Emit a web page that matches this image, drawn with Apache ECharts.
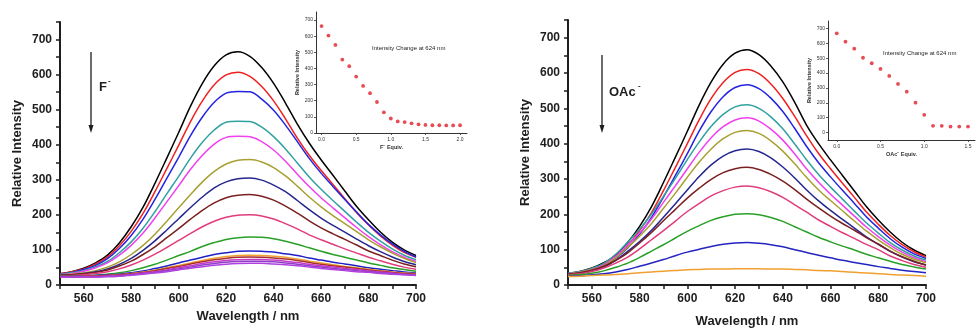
<!DOCTYPE html>
<html>
<head>
<meta charset="utf-8">
<script src="https://cdn.jsdelivr.net/npm/echarts@6/dist/echarts.min.js"></script>
<style>
  html, body { margin: 0; padding: 0; background: #fff; }
  #chart { width: 977px; height: 329px; }
</style>
</head>
<body>
<div id="chart"></div>
<script>
const wavelength = [550,555,560,565,570,575,580,585,590,595,600,605,610,615,620,625,630,635,640,645,650,655,660,665,670,675,680,685,690,695,700];

// left panel: F- titration spectra (top to bottom)
const fBlack    = [32,38,48,63,85,120,166,222,290,362,435,510,575,625,656,665,652,620,575,519,459,405,357,313,268,224,186,151,122,100,84];
const fRed      = [32,38,46,60,80,112,153,204,266,332,398,466,525,571,599,607,595,566,525,474,419,370,327,287,246,206,171,140,114,93,79];
const fBlue     = [31,36,44,56,75,104,141,188,244,304,364,426,479,521,547,552,551,530,498,456,409,361,319,281,244,208,173,143,117,96,80];
const fTeal     = [30,35,41,52,67,92,123,162,209,260,310,362,407,442,464,467,466,450,423,388,348,308,273,241,210,179,150,125,103,85,72];
const fMagenta  = [29,33,39,49,63,85,113,148,191,237,283,330,370,402,421,424,423,409,385,353,316,281,249,220,192,164,138,115,95,79,67];
const fOlive    = [29,31,35,41,51,66,87,113,145,182,220,258,294,324,345,356,358,351,335,311,282,251,223,198,175,152,129,109,91,76,64];
const fNavy     = [28,29,33,38,46,59,76,99,126,157,189,221,251,277,294,303,305,299,285,266,241,215,191,170,151,131,112,95,80,67,58];
const fBrown    = [27,29,32,36,43,54,68,87,109,135,161,188,213,234,249,256,258,253,242,225,205,183,163,146,130,114,97,84,71,60,52];
const fPink     = [26,27,29,33,38,46,57,71,88,107,127,147,166,182,193,199,200,197,188,175,160,143,129,116,103,91,79,69,59,51,45];
const fGreen    = [25,25,26,28,31,35,41,49,59,71,84,96,110,121,130,135,137,136,132,125,116,106,96,87,79,71,63,56,49,44,39];
const fBlue2    = [25,25,26,27,29,31,35,40,47,54,63,71,79,87,92,96,97,96,94,89,84,77,71,65,60,55,49,45,41,37,34];
const fOrange   = [24,24,25,26,27,29,33,37,42,49,56,63,70,76,81,84,85,84,82,79,74,68,63,58,53,49,45,41,37,34,32];
const fDarkRed  = [24,24,25,26,27,29,32,36,41,47,53,60,66,72,76,79,80,79,77,74,70,64,59,55,51,47,43,39,36,33,31];
const fMagenta2 = [23,23,24,24,26,27,30,34,38,43,49,55,61,66,70,72,73,73,71,68,64,59,55,51,47,44,40,37,34,31,29];
const fPurple   = [22,22,23,23,24,26,29,32,36,41,46,51,57,61,65,67,68,68,66,63,59,55,51,47,44,41,38,35,32,30,28];
const fViolet   = [22,22,23,23,24,25,28,31,34,38,43,48,52,56,59,61,62,62,60,58,55,51,47,44,41,38,36,33,31,29,27];

// right panel: OAc- titration spectra
const oBlack   = [32,38,48,63,85,120,166,222,290,362,435,510,575,625,656,666,652,620,575,517,452,400,354,310,266,222,184,150,121,99,83];
const oRed     = [32,38,46,60,80,112,154,205,267,333,400,468,528,573,602,610,598,569,528,477,422,372,329,288,248,207,172,140,114,94,79];
const oBlue    = [31,36,44,57,76,105,144,191,249,310,372,436,491,533,559,567,556,529,491,443,392,346,306,268,231,193,161,131,107,88,75];
const oTeal    = [33,38,47,61,87,121,158,201,251,302,355,405,449,483,504,510,500,476,442,399,354,313,277,243,209,176,147,120,99,82,70];
const oMagenta = [32,36,44,57,81,113,147,187,234,281,329,376,417,448,467,473,464,441,410,371,328,291,257,226,195,164,137,113,93,77,66];
const oOlive   = [31,36,43,55,77,106,138,174,217,260,305,348,385,414,432,437,429,408,379,343,304,269,239,210,181,153,128,106,87,73,63];
const oNavy    = [30,34,40,51,70,95,123,155,192,230,269,307,340,365,380,385,378,360,334,303,269,238,211,186,161,136,115,95,79,66,57];
const oBrown   = [31,35,42,53,70,91,119,149,182,214,246,274,299,318,329,333,327,313,294,270,243,218,195,174,155,134,116,96,80,67,56];
const oPink    = [29,32,38,48,62,79,102,128,154,181,208,231,252,267,277,280,275,264,248,227,206,184,166,148,132,115,100,82,69,58,50];
const oGreen   = [27,29,33,40,50,62,78,96,114,133,152,168,183,193,200,202,199,191,180,165,150,135,122,110,99,87,77,67,58,51,45];
const oBlue2   = [25,26,29,32,37,44,53,62,72,83,93,101,109,115,119,120,118,114,108,100,92,84,77,70,64,58,52,47,42,38,35];
const oOrange  = [24,25,27,28,30,32,35,37,39,41,43,44,45,45,46,46,46,45,45,44,43,41,40,38,36,34,32,30,28,27,25];

// insets: intensity at 624 nm vs equivalents
const fEquiv = [0,0.1,0.2,0.3,0.4,0.5,0.6,0.7,0.8,0.9,1.0,1.1,1.2,1.3,1.4,1.5,1.6,1.7,1.8,1.9,2.0];
const fIntensity = [663,604,546,455,414,350,292,247,192,128,90,72,68,60,54,50,48,48,47,47,48];
const oacEquiv = [0,0.1,0.2,0.3,0.4,0.5,0.6,0.7,0.8,0.9,1.0,1.1,1.2,1.3,1.4,1.5];
const oacIntensity = [667,611,564,503,466,428,381,327,275,201,119,45,45,40,40,40];

const fSpectra = [fBlack,fRed,fBlue,fTeal,fMagenta,fOlive,fNavy,fBrown,fPink,fGreen,fBlue2,fOrange,fDarkRed,fMagenta2,fPurple,fViolet];
const oSpectra = [oBlack,oRed,oBlue,oTeal,oMagenta,oOlive,oNavy,oBrown,oPink,oGreen,oBlue2,oOrange];
const fColors = ["#000000","#f02020","#2424e0","#30a0a0","#f040f0","#a8a030","#262690","#7a2020","#e03c7c","#28a028","#2020c8","#f0a030","#a83030","#c838c8","#9040c8","#b040e0"];
const oColors = ["#000000","#f02020","#2424e0","#30a0a0","#f040f0","#a8a030","#262690","#7a2020","#e03c7c","#28a028","#2424c0","#f0a030"];

const FONT = "'Liberation Sans', Arial, sans-serif";
const INK = "#1e1e1e";

function mainX(idx, nameGap, padLeft) {
  return {
    type: "value", gridIndex: idx, min: 550, max: 700, interval: 10,
    axisLine: { show: true, onZero: false, lineStyle: { color: INK, width: 2 } },
    axisTick: { show: true, length: 4, lineStyle: { color: INK, width: 1.5 } },
    axisLabel: {
      color: INK, fontFamily: FONT, fontWeight: "bold", fontSize: 12, margin: 8,
      formatter: (v) => (v % 20 === 0 && v >= 560 ? String(v) : ""),
    },
    splitLine: { show: false },
    name: "Wavelength / nm", nameLocation: "middle", nameGap,
    nameTextStyle: { color: INK, fontFamily: FONT, fontWeight: "bold", fontSize: 13, padding: [0, 0, 0, padLeft] },
  };
}

function mainY(idx) {
  return {
    type: "value", gridIndex: idx, min: 0, max: 750, interval: 50,
    axisLine: { show: true, lineStyle: { color: INK, width: 2 } },
    axisTick: { show: true, length: 4, lineStyle: { color: INK, width: 1.5 } },
    axisLabel: {
      color: INK, fontFamily: FONT, fontWeight: "bold", fontSize: 12, margin: 8,
      formatter: (v) => (v % 100 === 0 && v <= 700 ? String(v) : ""),
    },
    splitLine: { show: false },
    name: "Relative Intensity", nameLocation: "middle", nameGap: 36,
    nameTextStyle: { color: INK, fontFamily: FONT, fontWeight: "bold", fontSize: 13 },
  };
}

function insetX(idx, min, max, ticks, name) {
  return {
    type: "value", gridIndex: idx, min, max,
    axisLine: { show: true, onZero: false, lineStyle: { color: "#333", width: 1 } },
    axisTick: { show: true, customValues: ticks, length: 2, lineStyle: { color: "#333", width: 0.8 } },
    axisLabel: { customValues: ticks, color: "#333", fontFamily: FONT, fontSize: 5, margin: 4, formatter: (v) => v.toFixed(1) },
    splitLine: { show: false },
    name, nameLocation: "middle", nameGap: 11,
    nameTextStyle: { color: "#333", fontFamily: FONT, fontWeight: "bold", fontSize: 5.5 },
  };
}

function insetY(idx, min, name) {
  const ticks = [0, 100, 200, 300, 400, 500, 600, 700];
  return {
    type: "value", gridIndex: idx, min, max: 750,
    axisLine: { show: true, onZero: false, lineStyle: { color: "#333", width: 1 } },
    axisTick: { show: true, customValues: ticks, length: 2, lineStyle: { color: "#333", width: 0.8 } },
    axisLabel: { customValues: ticks, color: "#333", fontFamily: FONT, fontSize: 5, margin: 3 },
    splitLine: { show: false },
    name, nameLocation: "middle", nameGap: 15,
    nameTextStyle: { color: "#333", fontFamily: FONT, fontWeight: "bold", fontSize: 5.5 },
  };
}

function spectrum(values, color, axis) {
  return {
    type: "line", xAxisIndex: axis, yAxisIndex: axis,
    data: wavelength.map((w, i) => [w, values[i]]),
    showSymbol: false, smooth: 0.35, silent: true,
    lineStyle: { color, width: 1.5 },
  };
}

function titration(xs, ys, axis) {
  return {
    type: "scatter", xAxisIndex: axis, yAxisIndex: axis,
    data: xs.map((x, i) => [x, ys[i]]),
    symbol: "circle", symbolSize: 3.8, silent: true,
    itemStyle: { color: "#e01f28" },
  };
}

function arrow(x, y1, y2) {
  return [
    { type: "line", shape: { x1: x, y1, x2: x, y2: y2 - 6 }, style: { stroke: INK, lineWidth: 1.3 } },
    { type: "polygon", shape: { points: [[x - 2.5, y2 - 8], [x + 2.5, y2 - 8], [x, y2]] }, style: { fill: INK } },
  ];
}

function label(text, x, y, size, weight) {
  return { type: "text", x, y, style: { text, fill: INK, font: `${weight} ${size}px ${FONT}`, verticalAlign: "middle" } };
}

const chart = echarts.init(document.getElementById("chart"), null, { renderer: "canvas" });
chart.setOption({
  animation: false,
  backgroundColor: "#fff",
  grid: [
    { left: 60, top: 22, width: 356, height: 263, outerBoundsMode: "none", containLabel: false },
    { left: 568, top: 20, width: 358, height: 265, outerBoundsMode: "none", containLabel: false },
    { left: 316, top: 12, width: 151, height: 121, outerBoundsMode: "none", containLabel: false },
    { left: 828, top: 21, width: 147, height: 119, outerBoundsMode: "none", containLabel: false },
  ],
  xAxis: [
    mainX(0, 23, 20),
    mainX(1, 30, 0),
    insetX(2, -0.08, 2.1, [0, 0.5, 1, 1.5, 2], "F⁻ Equiv."),
    insetX(3, -0.1, 1.58, [0, 0.5, 1, 1.5], "OAc⁻ Equiv."),
  ],
  yAxis: [
    mainY(0),
    mainY(1),
    insetY(2, 0, "Relative Intensity"),
    insetY(3, -50, "Relative Intensity"),
  ],
  series: [
    ...fSpectra.map((v, i) => spectrum(v, fColors[i], 0)),
    ...oSpectra.map((v, i) => spectrum(v, oColors[i], 1)),
    titration(fEquiv, fIntensity, 2),
    titration(oacEquiv, oacIntensity, 3),
  ],
  graphic: [
    ...arrow(91, 52, 133),
    ...arrow(602, 55, 133),
    label("F", 99, 87, 13, "bold"),
    label("-", 108, 81, 8, "bold"),
    label("OAc", 609, 92, 13, "bold"),
    label("-", 638, 86, 8, "bold"),
    label("Intensity Change at 624 nm", 372, 48, 6, "normal"),
    label("Intensity Change at 624 nm", 883, 53, 6, "normal"),
  ],
});
</script>
</body>
</html>
